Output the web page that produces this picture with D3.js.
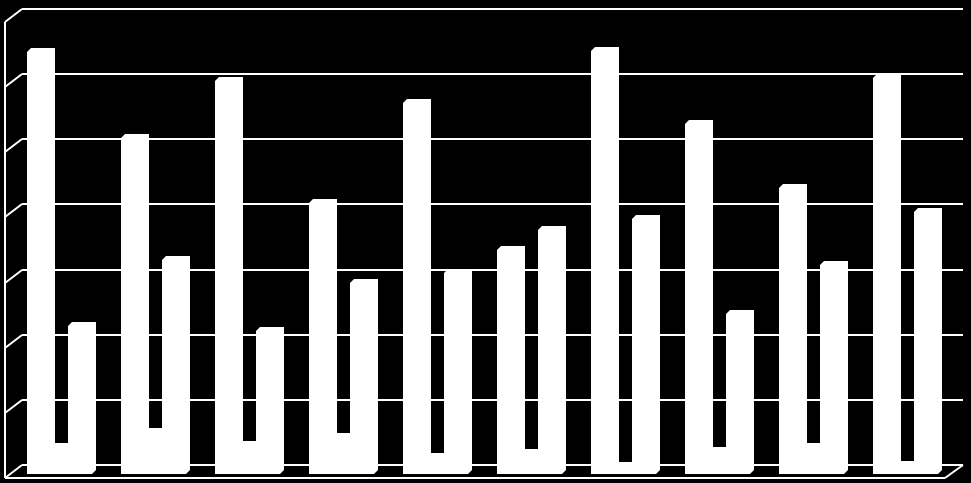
<!DOCTYPE html>
<html>
<head>
<meta charset="utf-8">
<script src="https://cdn.jsdelivr.net/npm/d3@7"></script>
<style>
  html, body { margin: 0; padding: 0; background: #000; }
  svg { display: block; }
</style>
</head>
<body>
<svg id="chart" width="971" height="483"></svg>
<script>
// ---- data ----
const categories = ["1", "2", "3", "4", "5", "6", "7", "8", "9", "10"];
const seriesA = [64.8, 51.6, 60.4, 41.6, 57.0, 34.4, 65.0, 53.8, 43.9, 60.8];
const seriesB = [4.1, 6.5, 4.5, 5.7, 2.6, 3.2, 1.2, 3.5, 4.1, 1.4];
const seriesC = [22.7, 32.9, 22.0, 29.3, 30.9, 37.5, 39.2, 24.6, 32.1, 40.2];
const gridTicks = [0, 10, 20, 30, 40, 50, 60, 70];

// ---- layout ----
const W = 971, H = 483;
const svg = d3.select("#chart").attr("viewBox", `0 0 ${W} ${H}`);
svg.append("rect").attr("width", W).attr("height", H).attr("fill", "#000");

const wallDX = 17, wallDY = 13;   // perspective of walls/floor
const barD = 4;                   // bar depth offset
const frontLeft = 5, frontRight = 945;

const yGrid = d3.scaleLinear().domain([0, 70]).range([465, 9]);
const yBar = d3.scaleLinear().domain([0, 70]).range([474, 18]);
const x = d3.scaleBand().domain(categories).range([frontLeft, frontRight]).padding(0);

const series = [
  { values: seriesA, off: 22, w: 24 },
  { values: seriesB, off: 46, w: 17 },
  { values: seriesC, off: 63, w: 24 }
];

// ---- grid / walls ----
const g = svg.append("g").attr("stroke", "#fff").attr("stroke-width", 2).attr("fill", "none");
gridTicks.forEach(t => {
  const yb = Math.round(yGrid(t));
  g.append("line").attr("x1", frontLeft + wallDX).attr("x2", frontRight + wallDX + 1)
    .attr("y1", yb).attr("y2", yb);
  g.append("line").attr("x1", frontLeft).attr("y1", yb + wallDY)
    .attr("x2", frontLeft + wallDX).attr("y2", yb);
});
// left wall front edge
g.append("line").attr("x1", frontLeft).attr("x2", frontLeft)
  .attr("y1", yGrid(70) + wallDY).attr("y2", yGrid(0) + wallDY);
// floor front edge & right side
g.append("line").attr("x1", frontLeft).attr("x2", frontRight)
  .attr("y1", yGrid(0) + wallDY).attr("y2", yGrid(0) + wallDY);
g.append("line").attr("x1", frontRight).attr("y1", yGrid(0) + wallDY)
  .attr("x2", frontRight + wallDX + 1).attr("y2", yGrid(0));

// ---- bars ----
const bars = svg.append("g").attr("fill", "#fff").attr("stroke", "none");
function barPath(x0, x1, yTop, yBot, d) {
  return `M${x0},${yTop} L${x0 + d},${yTop - d} L${x1 + d},${yTop - d} L${x1 + d},${yBot - d} L${x1},${yBot} L${x0},${yBot} Z`;
}
categories.forEach((c, i) => {
  series.forEach(s => {
    const x0 = Math.round(x(c) + s.off);
    const x1 = x0 + s.w;
    bars.append("path").attr("d", barPath(x0, x1, Math.round(yBar(s.values[i])), yBar(0), barD));
  });
});
</script>
</body>
</html>
